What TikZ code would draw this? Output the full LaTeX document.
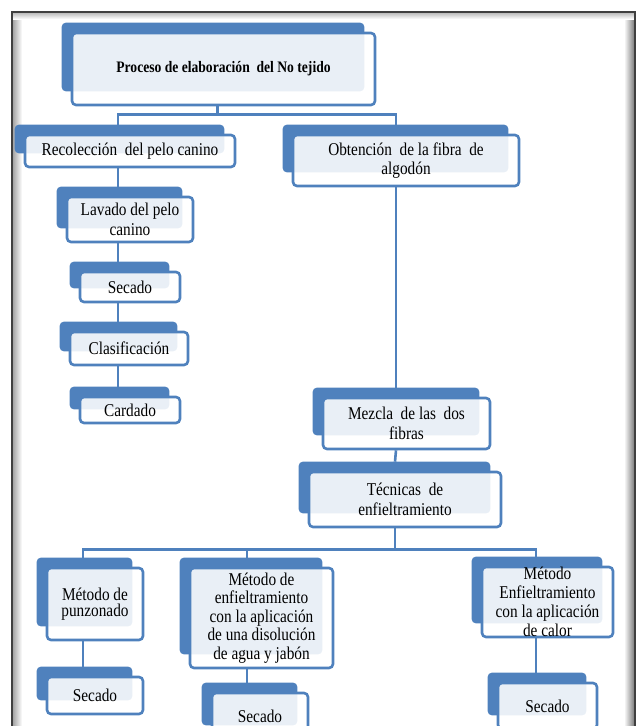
\documentclass[tikz,border=0pt]{standalone}
\usepackage{fontspec}
\setmainfont{Liberation Serif}[FakeStretch=0.85]
\usetikzlibrary{backgrounds}
\definecolor{tabblue}{RGB}{79,129,189}
\tikzset{
  box/.style={draw=tabblue, line width=2.6pt, rounded corners=4pt, fill=white,
    fill opacity=0.88, text opacity=1, align=center, inner sep=0pt,
    font=\fontsize{18}{19.5}\selectfont},
  tab/.style={fill=tabblue, rounded corners=4pt},
  link/.style={tabblue, line width=2.6pt}
}
\begin{document}
\begin{tikzpicture}[x=1pt,y=-1pt]
    \useasboundingbox (0,0) rectangle (637,726);
    \clip (0,0) rectangle (637,726);
    \node[box, minimum width=303, minimum height=72, font=\bfseries\fontsize{16}{18}\selectfont] (top) at (223.5,69) {Proceso de elaboración\ \ del No tejido};
    \node[box, minimum width=210, minimum height=32] (rec) at (130,151) {Recolección\ \ del pelo canino};
    \node[box, minimum width=226, minimum height=51] (obt) at (406,160.5) {Obtención\ \ de la fibra\ \ de\\algodón};
    \node[box, minimum width=126, minimum height=45] (lav) at (130,219.5) {Lavado\ del pelo\\canino};
    \node[box, minimum width=100, minimum height=30] (sec1) at (130,287) {Secado};
    \node[box, minimum width=118, minimum height=33] (cla) at (129,348.5) {Clasificación};
    \node[box, minimum width=100, minimum height=26] (car) at (130,410) {Cardado};
    \node[box, minimum width=167, minimum height=51] (mez) at (406.5,423.5) {Mezcla\ \ de las\ \ dos\\fibras};
    \node[box, minimum width=192, minimum height=55] (tec) at (405,499.5) {Técnicas\ \ de\\enfieltramiento};
    \node[box, minimum width=96, minimum height=72, font=\fontsize{18}{16.5}\selectfont] (pun) at (95,604) {Método de\\punzonado};
    \node[box, minimum width=143, minimum height=100, font=\fontsize{18}{18.5}\selectfont] (agu) at (261.5,618) {Método de\\enfieltramiento\\con la aplicación\\de una disolución\\de agua\ y jabón};
    \node[box, minimum width=131, minimum height=70, font=\fontsize{18}{19}\selectfont] (cal) at (547.5,602) {Método\\Enfieltramiento\\con la\ aplicación\\de calor};
    \node[box, minimum width=96, minimum height=37] (sec2) at (95,695.5) {Secado};
    \node[box, minimum width=96, minimum height=46] (sec3) at (260,716) {Secado};
    \node[box, minimum width=99, minimum height=46] (sec4) at (547.5,706) {Secado};
    \begin{pgfonlayer}{background}
        \shade[left color=black!35, right color=white] (13,13) rectangle (22,726);
        \shade[left color=white, right color=black!50] (624,13) rectangle (634,726);
        \shade[top color=black!25, bottom color=white] (13,13) rectangle (634,19);
        \draw[black!75, line width=1.5pt] (12,726) -- (12,12) -- (635,12) -- (635,726);
        \draw[link] ([shift={(-6,0)}]top.south) -- ++(0,8) coordinate (bus1);
        \draw[link] ([shift={(-12,-9)}]rec.north) |- (bus1) -| ([shift={(-10,-9)}]obt.north);
        \draw[link] ([shift={(-12,0)}]rec.south) -- ([shift={(-12,-9)}]lav.north);
        \draw[link] ([shift={(-12,0)}]lav.south) -- ([shift={(-12,-9)}]sec1.north);
        \draw[link] ([shift={(-12,0)}]sec1.south) -- ([shift={(-11,-9)}]cla.north);
        \draw[link] ([shift={(-11,0)}]cla.south) -- ([shift={(-12,-9)}]car.north);
        \draw[link] ([shift={(-10,0)}]obt.south) -- ([shift={(-10.5,-9)}]mez.north);
        \draw[link] ([shift={(-10.5,0)}]mez.south) -- ([shift={(-10,-9)}]tec.north);
        \draw[link] ([shift={(-10,0)}]tec.south) -- ++(0,21) coordinate (bus2);
        \draw[link] ([shift={(-12,-9)}]pun.north) |- (bus2) -| ([shift={(-11.5,-9)}]cal.north);
        \draw[link] ([shift={(-14.5,-9)}]agu.north) |- (bus2);
        \draw[link] ([shift={(-12,0)}]pun.south) -- ([shift={(-12,-9)}]sec2.north);
        \draw[link] ([shift={(-14.5,0)}]agu.south) -- ([shift={(-13,-9)}]sec3.north);
        \draw[link] ([shift={(-11.5,0)}]cal.south) -- ([shift={(-11.5,-9)}]sec4.north);
        \foreach \n in {top,rec,obt,lav,sec1,cla,car,mez,tec,pun,agu,cal,sec2,sec3,sec4}
            \fill[tab] ([shift={(-9,-9)}]\n.north west) rectangle ([shift={(-12,-15)}]\n.south east);
    \end{pgfonlayer}
\end{tikzpicture}
\end{document}
